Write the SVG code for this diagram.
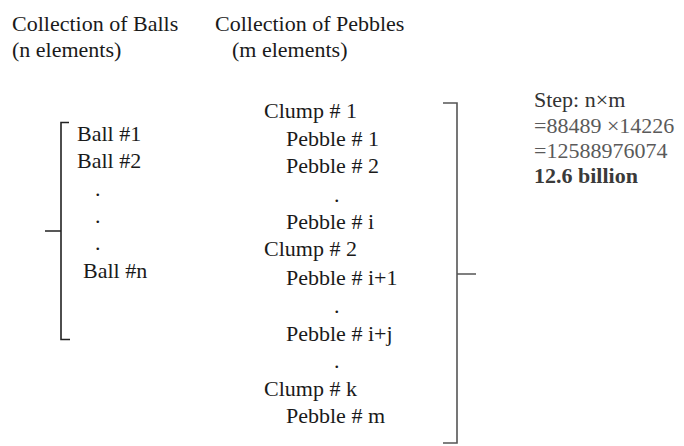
<svg xmlns="http://www.w3.org/2000/svg" width="684" height="446" viewBox="0 0 684 446">
<defs>
<path id="lbr" d="M69,122.5 H61 V339.5 H70 M45,231 H61"/>
<path id="rbr" d="M443,103 H457 V443 H443 M457,274 H476"/>
</defs>
<rect width="684" height="446" fill="#fff"/>
<g id="headers" font-size="22" fill="#1a1a1a">
<text font-family="Liberation Serif" x="12" y="31">Collection of Balls</text>
<text font-family="Liberation Serif" x="12" y="57">(n elements)</text>
<text font-family="Liberation Serif" x="215" y="31">Collection of Pebbles</text>
<text font-family="Liberation Serif" x="232" y="57">(m elements)</text>
</g>
<g id="balls" font-size="22" fill="#1a1a1a">
<text font-family="Liberation Serif" x="77" y="141">Ball #1</text>
<text font-family="Liberation Serif" x="77" y="168">Ball #2</text>
<text font-family="Liberation Serif" x="95" y="196">.</text>
<text font-family="Liberation Serif" x="95" y="223">.</text>
<text font-family="Liberation Serif" x="95" y="250">.</text>
<text font-family="Liberation Serif" x="83" y="278">Ball #n</text>
</g>
<g id="pebbles" font-size="22" fill="#1a1a1a">
<text font-family="Liberation Serif" x="264" y="118">Clump # 1</text>
<text font-family="Liberation Serif" x="286" y="146">Pebble # 1</text>
<text font-family="Liberation Serif" x="286" y="173">Pebble # 2</text>
<text font-family="Liberation Serif" x="334" y="202">.</text>
<text font-family="Liberation Serif" x="286" y="229">Pebble # i</text>
<text font-family="Liberation Serif" x="264" y="256">Clump # 2</text>
<text font-family="Liberation Serif" x="286" y="285">Pebble # i+1</text>
<text font-family="Liberation Serif" x="334" y="313">.</text>
<text font-family="Liberation Serif" x="286" y="341">Pebble # i+j</text>
<text font-family="Liberation Serif" x="334" y="368">.</text>
<text font-family="Liberation Serif" x="264" y="396">Clump # k</text>
<text font-family="Liberation Serif" x="286" y="423">Pebble # m</text>
</g>
<g id="step" font-size="22">
<text font-family="Liberation Serif" fill="#333" x="534" y="107">Step: n&#215;m</text>
<text font-family="Liberation Serif" fill="#5a5a5a" x="534" y="133">=88489 &#215;14226</text>
<text font-family="Liberation Serif" fill="#5a5a5a" x="534" y="158">=12588976074</text>
<text font-family="Liberation Serif" fill="#3a3a3a" font-weight="bold" x="534" y="183">12.6 billion</text>
</g>
<g id="connectors" fill="none" stroke-width="1.6">
<use href="#lbr" stroke="#222"/>
<use href="#rbr" stroke="#555"/>
</g>
</svg>
